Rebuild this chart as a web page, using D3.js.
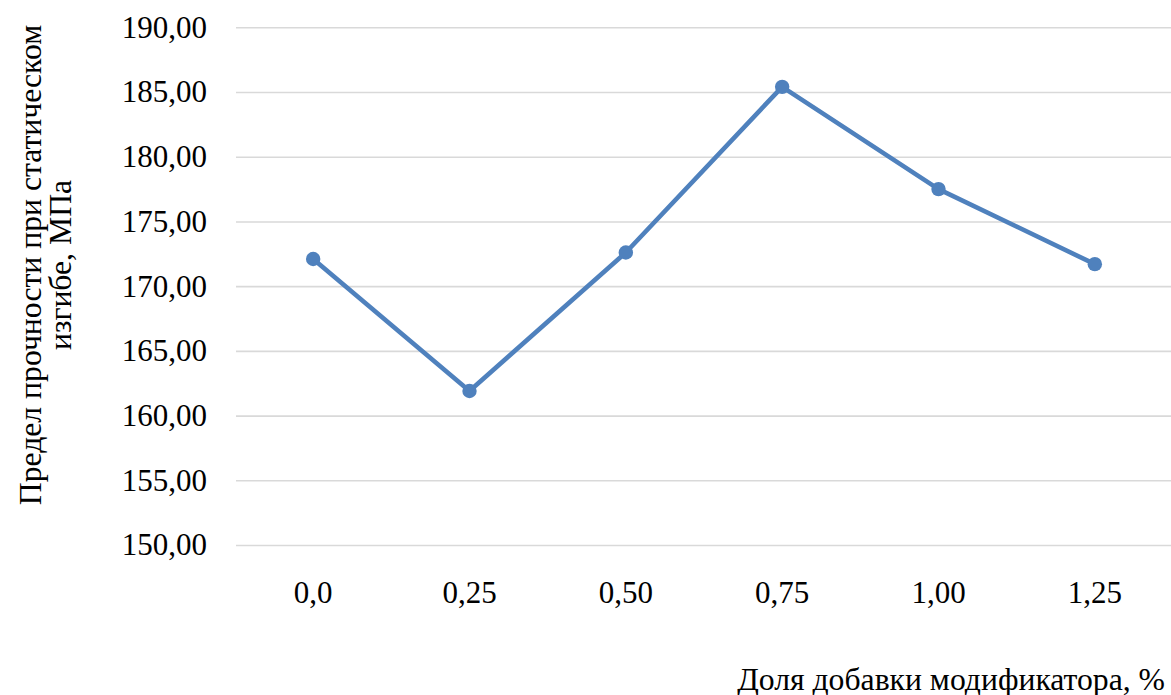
<!DOCTYPE html>
<html>
<head>
<meta charset="utf-8">
<script src="https://cdn.jsdelivr.net/npm/d3@7/dist/d3.min.js"></script>
</head>
<body style="margin:0;padding:0;background:#ffffff">
<svg id="fig" width="1171" height="695" style="display:block"></svg>
<script>
// Modifier share, % (category labels on the x axis)
const categories = ["0,0", "0,25", "0,50", "0,75", "1,00", "1,25"];
// Static bending strength, MPa
const strength = [172.1, 161.9, 172.6, 185.4, 177.5, 171.7];
// Value axis ticks
const yTicks = [150, 155, 160, 165, 170, 175, 180, 185, 190];

const yTitleLines = ["Предел прочности при статическом", "изгибе, МПа"];
const xTitle = "Доля добавки модификатора, %";

const plot = { left: 235, right: 1173, top: 27.3, bottom: 545 };
const tickFont = 31;
const titleFont = 31.7;
const serif = '"Liberation Serif", "Times New Roman", serif';
const blue = "#4f81bd";

const svg = d3.select("#fig");

// Text helper: serif face, black
const serifText = (sel, size) => sel
  .attr("fill", "#000")
  .attr("font-size", size)
  .style("font-family", serif);

const x = d3.scaleBand().domain(categories).range([plot.left, plot.right]).padding(0);
const y = d3.scaleLinear().domain([150, 190]).range([plot.bottom, plot.top]);
const fmt = v => d3.format(".2f")(v).replace(".", ",");

// Horizontal gridlines
const grid = svg.append("g")
  .attr("transform", `translate(${plot.left + 1},0)`)
  .call(d3.axisLeft(y).tickValues(yTicks).tickSize(-(plot.right - plot.left)).tickFormat(""));
grid.select(".domain").remove();
grid.selectAll("line").attr("stroke", "#d9d9d9").attr("stroke-width", 1.6);

// Value axis labels
const yAxis = svg.append("g")
  .attr("transform", `translate(${plot.left + 1},0)`)
  .call(d3.axisLeft(y).tickValues(yTicks).tickFormat(fmt).tickSize(0).tickPadding(29));
yAxis.attr("font-family", null).attr("font-size", null);
yAxis.select(".domain").remove();
yAxis.selectAll("text").call(serifText, tickFont);

// Category axis labels
const xAxis = svg.append("g")
  .attr("transform", `translate(0,${plot.bottom})`)
  .call(d3.axisBottom(x).tickSize(0).tickPadding(0));
xAxis.attr("font-family", null).attr("font-size", null);
xAxis.select(".domain").remove();
xAxis.selectAll("text").attr("y", 58).attr("dy", 0).call(serifText, tickFont);

// Series line and markers
const cx = c => x(c) + x.bandwidth() / 2;
const pts = categories.map((c, i) => ({ c, v: strength[i] }));

svg.append("path")
  .datum(pts)
  .attr("fill", "none")
  .attr("stroke", blue)
  .attr("stroke-width", 4.6)
  .attr("stroke-linejoin", "round")
  .attr("stroke-linecap", "round")
  .attr("d", d3.line().x(d => cx(d.c)).y(d => y(d.v)));

svg.append("g")
  .selectAll("circle")
  .data(pts)
  .join("circle")
  .attr("cx", d => cx(d.c))
  .attr("cy", d => y(d.v))
  .attr("r", 7.2)
  .attr("fill", blue);

// Axis titles
const yTitle = svg.append("text")
  .attr("transform", "translate(0,265) rotate(-90)")
  .attr("text-anchor", "middle")
  .call(serifText, titleFont);
yTitle.selectAll("tspan")
  .data(yTitleLines)
  .join("tspan")
  .attr("x", 0)
  .attr("y", (d, i) => 41 + i * 30)
  .text(d => d);

svg.append("text")
  .attr("x", 1165)
  .attr("y", 690)
  .attr("text-anchor", "end")
  .call(serifText, titleFont)
  .text(xTitle);
</script>
</body>
</html>
